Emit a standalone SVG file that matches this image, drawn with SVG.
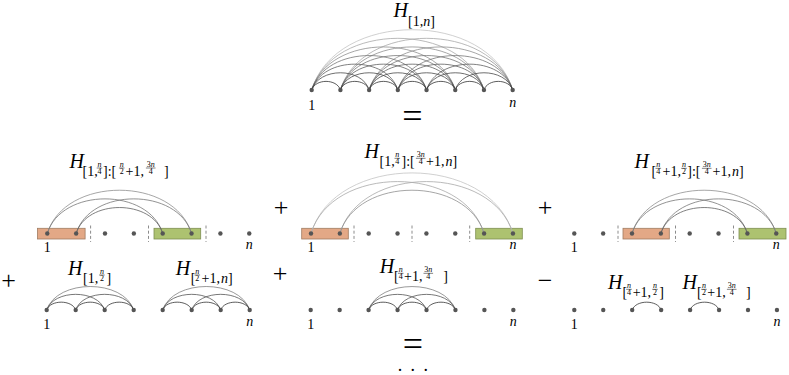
<svg xmlns="http://www.w3.org/2000/svg" width="789" height="375" viewBox="0 0 789 375">
<style>
text{font-family:"Liberation Serif","Times New Roman",serif;fill:#000}
.H{font-size:20px;font-style:italic}
.sb{font-size:14px}
.fr{font-size:8px;text-anchor:middle}
.it{font-style:italic}
.fl{stroke:#000;stroke-width:0.5}
.lb{font-size:14px;text-anchor:middle}
.op{font-size:26px;text-anchor:middle}
.eq{font-size:36px;text-anchor:middle}
.a{fill:none;stroke-width:0.8}
.k1{stroke:#333}.k2{stroke:#4a4a4a}.k3{stroke:#606060}.k4{stroke:#777}.k5{stroke:#8f8f8f}.k6{stroke:#a8a8a8}.k7{stroke:#c4c4c4}
.b1{stroke:#333}.b2{stroke:#555}.b3{stroke:#808080}
.dot{fill:#555}
.or{fill:#E3A886;stroke:#A07C62;stroke-width:0.8}
.gr{fill:#ADC270;stroke:#7E8F52;stroke-width:0.8}
.ds{stroke:#8c8c8c;stroke-width:1;stroke-dasharray:3 2.2}
</style>

<g id="blocks">
<rect class="or" x="37.5" y="228.3" width="47.6" height="10.7"/>
<rect class="gr" x="154" y="228.3" width="46.7" height="10.7"/>
<rect class="or" x="301.7" y="228.3" width="46.6" height="10.7"/>
<rect class="gr" x="475.7" y="228.3" width="46.6" height="10.7"/>
<rect class="or" x="623" y="228.3" width="46.3" height="10.7"/>
<rect class="gr" x="739" y="228.3" width="47" height="10.7"/>
<line class="ds" x1="90.6" y1="225.5" x2="90.6" y2="242"/>
<line class="ds" x1="148.5" y1="225.5" x2="148.5" y2="242"/>
<line class="ds" x1="206" y1="225.5" x2="206" y2="242"/>
<line class="ds" x1="354" y1="225.5" x2="354" y2="242"/>
<line class="ds" x1="412" y1="225.5" x2="412" y2="242"/>
<line class="ds" x1="469.7" y1="225.5" x2="469.7" y2="242"/>
<line class="ds" x1="618" y1="225.5" x2="618" y2="242"/>
<line class="ds" x1="675.5" y1="225.5" x2="675.5" y2="242"/>
<line class="ds" x1="733.5" y1="225.5" x2="733.5" y2="242"/>
</g>

<g id="connectors">
<g id="arcs-top">
<path class="a k7" d="M311.7,90c24.12,-80.39 176.85,-80.39 200.97,0"/>
<path class="a k6" d="M311.7,90c20.67,-68.9 151.59,-68.9 172.26,0M340.41,90c20.67,-68.9 151.59,-68.9 172.26,0"/>
<path class="a k5" d="M311.7,90c17.23,-57.42 126.32,-57.42 143.55,0M340.41,90c17.23,-57.42 126.32,-57.42 143.55,0M369.12,90c17.23,-57.42 126.32,-57.42 143.55,0"/>
<path class="a k4" d="M311.7,90c13.78,-45.94 101.06,-45.94 114.84,0M340.41,90c13.78,-45.94 101.06,-45.94 114.84,0M369.12,90c13.78,-45.94 101.06,-45.94 114.84,0M397.83,90c13.78,-45.94 101.06,-45.94 114.84,0"/>
<path class="a k3" d="M311.7,90c10.34,-34.45 75.79,-34.45 86.13,0M340.41,90c10.34,-34.45 75.79,-34.45 86.13,0M369.12,90c10.34,-34.45 75.79,-34.45 86.13,0M397.83,90c10.34,-34.45 75.79,-34.45 86.13,0M426.54,90c10.34,-34.45 75.79,-34.45 86.13,0"/>
<path class="a k2" d="M311.7,90c6.89,-22.97 50.53,-22.97 57.42,0M340.41,90c6.89,-22.97 50.53,-22.97 57.42,0M369.12,90c6.89,-22.97 50.53,-22.97 57.42,0M397.83,90c6.89,-22.97 50.53,-22.97 57.42,0M426.54,90c6.89,-22.97 50.53,-22.97 57.42,0M455.25,90c6.89,-22.97 50.53,-22.97 57.42,0"/>
<path class="a k1" d="M311.7,90c3.45,-11.48 25.26,-11.48 28.71,0M340.41,90c3.45,-11.48 25.26,-11.48 28.71,0M369.12,90c3.45,-11.48 25.26,-11.48 28.71,0M397.83,90c3.45,-11.48 25.26,-11.48 28.71,0M426.54,90c3.45,-11.48 25.26,-11.48 28.71,0M455.25,90c3.45,-11.48 25.26,-11.48 28.71,0M483.96,90c3.45,-11.48 25.26,-11.48 28.71,0"/>
</g>
<g id="arcs-p1">
<path class="a k5" d="M47.3,233.5c17.31,-57.7 126.94,-57.7 144.25,0"/>
<path class="a k4" d="M47.3,233.5c13.85,-46.16 101.55,-46.16 115.4,0M76.15,233.5c13.85,-46.16 101.55,-46.16 115.4,0"/>
<path class="a k3" d="M76.15,233.5c10.39,-34.62 76.16,-34.62 86.55,0"/>
</g>
<g id="arcs-p2">
<path class="a k7" d="M311,233.5c24.23,-80.78 177.72,-80.78 201.95,0"/>
<path class="a k6" d="M311,233.5c20.77,-69.24 152.33,-69.24 173.1,0M339.85,233.5c20.77,-69.24 152.33,-69.24 173.1,0"/>
<path class="a k5" d="M339.85,233.5c17.31,-57.7 126.94,-57.7 144.25,0"/>
</g>
<g id="arcs-p3">
<path class="a k5" d="M632,233.5c17.31,-57.7 126.94,-57.7 144.25,0"/>
<path class="a k4" d="M632,233.5c13.85,-46.16 101.55,-46.16 115.4,0M660.85,233.5c13.85,-46.16 101.55,-46.16 115.4,0"/>
<path class="a k3" d="M660.85,233.5c10.39,-34.62 76.16,-34.62 86.55,0"/>
</g>
<g id="arcs-p4">
<path class="a b3" d="M46.7,310c10.44,-31.32 76.56,-31.32 87,0M162.7,310c10.44,-31.32 76.56,-31.32 87,0"/>
<path class="a b2" d="M46.7,310c6.96,-20.88 51.04,-20.88 58,0M75.7,310c6.96,-20.88 51.04,-20.88 58,0M162.7,310c6.96,-20.88 51.04,-20.88 58,0M191.7,310c6.96,-20.88 51.04,-20.88 58,0"/>
<path class="a b1" d="M46.7,310c3.48,-10.44 25.52,-10.44 29,0M75.7,310c3.48,-10.44 25.52,-10.44 29,0M104.7,310c3.48,-10.44 25.52,-10.44 29,0M162.7,310c3.48,-10.44 25.52,-10.44 29,0M191.7,310c3.48,-10.44 25.52,-10.44 29,0M220.7,310c3.48,-10.44 25.52,-10.44 29,0"/>
</g>
<g id="arcs-p5">
<path class="a b3" d="M368.6,310c10.42,-31.27 76.43,-31.27 86.85,0"/>
<path class="a b2" d="M368.6,310c6.95,-20.84 50.95,-20.84 57.9,0M397.55,310c6.95,-20.84 50.95,-20.84 57.9,0"/>
<path class="a b1" d="M368.6,310c3.47,-10.42 25.48,-10.42 28.95,0M397.55,310c3.47,-10.42 25.48,-10.42 28.95,0M426.5,310c3.47,-10.42 25.48,-10.42 28.95,0"/>
</g>
<g id="arcs-p6">
<path class="a b1" d="M632.2,310c3.47,-10.42 25.48,-10.42 28.95,0M690.1,310c3.47,-10.42 25.48,-10.42 28.95,0"/>
</g>
</g>

<g id="nodes-top" class="dot">
<circle id="t1" cx="311.7" cy="90" r="2.2"/><circle id="t2" cx="340.41" cy="90" r="2.2"/><circle id="t3" cx="369.12" cy="90" r="2.2"/><circle id="t4" cx="397.83" cy="90" r="2.2"/><circle id="t5" cx="426.54" cy="90" r="2.2"/><circle id="t6" cx="455.25" cy="90" r="2.2"/><circle id="t7" cx="483.96" cy="90" r="2.2"/><circle id="t8" cx="512.67" cy="90" r="2.2"/>
</g>
<g id="nodes-p1" class="dot">
<circle id="p1n1" cx="47.3" cy="233.5" r="2.2"/><circle id="p1n2" cx="76.15" cy="233.5" r="2.2"/><circle id="p1n3" cx="105" cy="233.5" r="2.2"/><circle id="p1n4" cx="133.85" cy="233.5" r="2.2"/><circle id="p1n5" cx="162.7" cy="233.5" r="2.2"/><circle id="p1n6" cx="191.55" cy="233.5" r="2.2"/><circle id="p1n7" cx="220.4" cy="233.5" r="2.2"/><circle id="p1n8" cx="249.25" cy="233.5" r="2.2"/>
</g>
<g id="nodes-p2" class="dot">
<circle id="p2n1" cx="311" cy="233.5" r="2.2"/><circle id="p2n2" cx="339.85" cy="233.5" r="2.2"/><circle id="p2n3" cx="368.7" cy="233.5" r="2.2"/><circle id="p2n4" cx="397.55" cy="233.5" r="2.2"/><circle id="p2n5" cx="426.4" cy="233.5" r="2.2"/><circle id="p2n6" cx="455.25" cy="233.5" r="2.2"/><circle id="p2n7" cx="484.1" cy="233.5" r="2.2"/><circle id="p2n8" cx="512.95" cy="233.5" r="2.2"/>
</g>
<g id="nodes-p3" class="dot">
<circle id="p3n1" cx="574.3" cy="233.5" r="2.2"/><circle id="p3n2" cx="603.15" cy="233.5" r="2.2"/><circle id="p3n3" cx="632" cy="233.5" r="2.2"/><circle id="p3n4" cx="660.85" cy="233.5" r="2.2"/><circle id="p3n5" cx="689.7" cy="233.5" r="2.2"/><circle id="p3n6" cx="718.55" cy="233.5" r="2.2"/><circle id="p3n7" cx="747.4" cy="233.5" r="2.2"/><circle id="p3n8" cx="776.25" cy="233.5" r="2.2"/>
</g>
<g id="nodes-p4" class="dot">
<circle id="p4n1" cx="46.7" cy="310" r="2.2"/><circle id="p4n2" cx="75.7" cy="310" r="2.2"/><circle id="p4n3" cx="104.7" cy="310" r="2.2"/><circle id="p4n4" cx="133.7" cy="310" r="2.2"/><circle id="p4n5" cx="162.7" cy="310" r="2.2"/><circle id="p4n6" cx="191.7" cy="310" r="2.2"/><circle id="p4n7" cx="220.7" cy="310" r="2.2"/><circle id="p4n8" cx="249.7" cy="310" r="2.2"/>
</g>
<g id="nodes-p5" class="dot">
<circle id="p5n1" cx="310.7" cy="310" r="2.2"/><circle id="p5n2" cx="339.65" cy="310" r="2.2"/><circle id="p5n3" cx="368.6" cy="310" r="2.2"/><circle id="p5n4" cx="397.55" cy="310" r="2.2"/><circle id="p5n5" cx="426.5" cy="310" r="2.2"/><circle id="p5n6" cx="455.45" cy="310" r="2.2"/><circle id="p5n7" cx="484.4" cy="310" r="2.2"/><circle id="p5n8" cx="513.35" cy="310" r="2.2"/>
</g>
<g id="nodes-p6" class="dot">
<circle id="p6n1" cx="574.3" cy="310" r="2.2"/><circle id="p6n2" cx="603.25" cy="310" r="2.2"/><circle id="p6n3" cx="632.2" cy="310" r="2.2"/><circle id="p6n4" cx="661.15" cy="310" r="2.2"/><circle id="p6n5" cx="690.1" cy="310" r="2.2"/><circle id="p6n6" cx="719.05" cy="310" r="2.2"/><circle id="p6n7" cx="748" cy="310" r="2.2"/><circle id="p6n8" cx="776.95" cy="310" r="2.2"/>
</g>

<g id="node-labels">
<text class="lb" x="311.7" y="110">1</text><text class="lb it" x="512.7" y="107">n</text>
<text class="lb" x="47.3" y="251.5">1</text><text class="lb it" x="249.25" y="248.5">n</text>
<text class="lb" x="311" y="251.5">1</text><text class="lb it" x="512.95" y="248.5">n</text>
<text class="lb" x="574.3" y="251.5">1</text><text class="lb it" x="776.25" y="248.5">n</text>
<text class="lb" x="46.7" y="329">1</text><text class="lb it" x="249.7" y="326">n</text>
<text class="lb" x="310.7" y="329">1</text><text class="lb it" x="513.35" y="326">n</text>
<text class="lb" x="574.3" y="329">1</text><text class="lb it" x="776.95" y="326">n</text>
</g>

<g id="operators">
<text class="eq" x="412.5" y="128">=</text>
<text class="op" x="281" y="216">+</text>
<text class="op" x="545" y="216">+</text>
<text class="op" x="8.5" y="289">+</text>
<text class="op" x="280" y="282">+</text>
<text class="op" x="545" y="289">−</text>
<text class="eq" x="413" y="355.5">=</text>
<text style="font-size:18px;text-anchor:middle" x="400 412.7 425.7" y="370.5">...</text>
</g>

<g id="label-top">
<text class="H" x="393.5" y="17">H</text>
<text class="sb" x="408" y="26">[1,<tspan class="it">n</tspan>]</text>
</g>

<g id="label-p1">
<text class="H" x="69.5" y="168">H</text>
<text class="sb" x="82.5" y="175.5">[1,</text>
<text class="fr it" x="99.5" y="166.7">n</text><line class="fl" x1="96.7" y1="168" x2="102.3" y2="168"/><text class="fr" x="99.5" y="173.5">4</text>
<text class="sb" x="103" y="175.5">]:[</text>
<text class="fr it" x="121.7" y="166.7">n</text><line class="fl" x1="118.9" y1="168" x2="124.5" y2="168"/><text class="fr" x="121.7" y="173.5">2</text>
<text class="sb" x="125.5" y="175.5">+1,</text>
<text class="fr" x="150.7" y="166.7">3<tspan class="it">n</tspan></text><line class="fl" x1="145.9" y1="168" x2="155.5" y2="168"/><text class="fr" x="150.7" y="173.5">4</text>
<text class="sb" x="164" y="175.5">]</text>
</g>

<g id="label-p2">
<text class="H" x="364.5" y="158.3">H</text>
<text class="sb" x="379.5" y="165.8">[1,</text>
<text class="fr it" x="397.3" y="157">n</text><line class="fl" x1="394.5" y1="158.3" x2="400.1" y2="158.3"/><text class="fr" x="397.3" y="163.8">4</text>
<text class="sb" x="401.5" y="165.8">]:[</text>
<text class="fr" x="420.7" y="157">3<tspan class="it">n</tspan></text><line class="fl" x1="415.9" y1="158.3" x2="425.5" y2="158.3"/><text class="fr" x="420.7" y="163.8">4</text>
<text class="sb" x="426" y="165.8">+1,<tspan class="it" x="445.5">n</tspan>]</text>
</g>

<g id="label-p3">
<text class="H" x="634.5" y="168.3">H</text>
<text class="sb" x="651.5" y="175.8">[</text>
<text class="fr it" x="658.3" y="167">n</text><line class="fl" x1="655.5" y1="168.3" x2="661.1" y2="168.3"/><text class="fr" x="658.3" y="173.8">4</text>
<text class="sb" x="662.5" y="175.8">+1,</text>
<text class="fr it" x="684" y="167">n</text><line class="fl" x1="681.2" y1="168.3" x2="686.8" y2="168.3"/><text class="fr" x="684" y="173.8">2</text>
<text class="sb" x="687.3" y="175.8">]:[</text>
<text class="fr" x="706.7" y="167">3<tspan class="it">n</tspan></text><line class="fl" x1="701.9" y1="168.3" x2="711.5" y2="168.3"/><text class="fr" x="706.7" y="173.8">4</text>
<text class="sb" x="712.5" y="175.8">+1,<tspan class="it" x="732">n</tspan>]</text>
</g>

<g id="label-b1">
<text class="H" x="68" y="275">H</text>
<text class="sb" x="83" y="282.5">[1,</text>
<text class="fr it" x="101.9" y="273.7">n</text><line class="fl" x1="99.1" y1="275" x2="104.7" y2="275"/><text class="fr" x="101.9" y="280.5">2</text>
<text class="sb" x="106.5" y="282.5">]</text>
</g>

<g id="label-b2">
<text class="H" x="175.7" y="275">H</text>
<text class="sb" x="190.8" y="282.5">[</text>
<text class="fr it" x="197.3" y="273.7">n</text><line class="fl" x1="194.5" y1="275" x2="200.1" y2="275"/><text class="fr" x="197.3" y="280.5">2</text>
<text class="sb" x="201.5" y="282.5">+1,<tspan class="it" x="221">n</tspan>]</text>
</g>

<g id="label-b3">
<text class="H" x="379.7" y="273.3">H</text>
<text class="sb" x="394" y="280.8">[</text>
<text class="fr it" x="400.7" y="272">n</text><line class="fl" x1="397.9" y1="273.3" x2="403.5" y2="273.3"/><text class="fr" x="400.7" y="278.8">4</text>
<text class="sb" x="404" y="280.8">+1,</text>
<text class="fr" x="428.3" y="272">3<tspan class="it">n</tspan></text><line class="fl" x1="423.5" y1="273.3" x2="433.1" y2="273.3"/><text class="fr" x="428.3" y="278.8">4</text>
<text class="sb" x="443.3" y="280.8">]</text>
</g>

<g id="label-b4">
<text class="H" x="608" y="289.3">H</text>
<text class="sb" x="622.5" y="296.8">[</text>
<text class="fr it" x="629" y="288">n</text><line class="fl" x1="626.2" y1="289.3" x2="631.8" y2="289.3"/><text class="fr" x="629" y="294.8">4</text>
<text class="sb" x="632.7" y="296.8">+1,</text>
<text class="fr it" x="655" y="288">n</text><line class="fl" x1="652.2" y1="289.3" x2="657.8" y2="289.3"/><text class="fr" x="655" y="294.8">2</text>
<text class="sb" x="659.3" y="296.8">]</text>
</g>

<g id="label-b5">
<text class="H" x="682.5" y="289.3">H</text>
<text class="sb" x="697" y="296.8">[</text>
<text class="fr it" x="704" y="288">n</text><line class="fl" x1="701.2" y1="289.3" x2="706.8" y2="289.3"/><text class="fr" x="704" y="294.8">2</text>
<text class="sb" x="707.3" y="296.8">+1,</text>
<text class="fr" x="731.7" y="288">3<tspan class="it">n</tspan></text><line class="fl" x1="726.9" y1="289.3" x2="736.5" y2="289.3"/><text class="fr" x="731.7" y="294.8">4</text>
<text class="sb" x="746" y="296.8">]</text>
</g>
</svg>
